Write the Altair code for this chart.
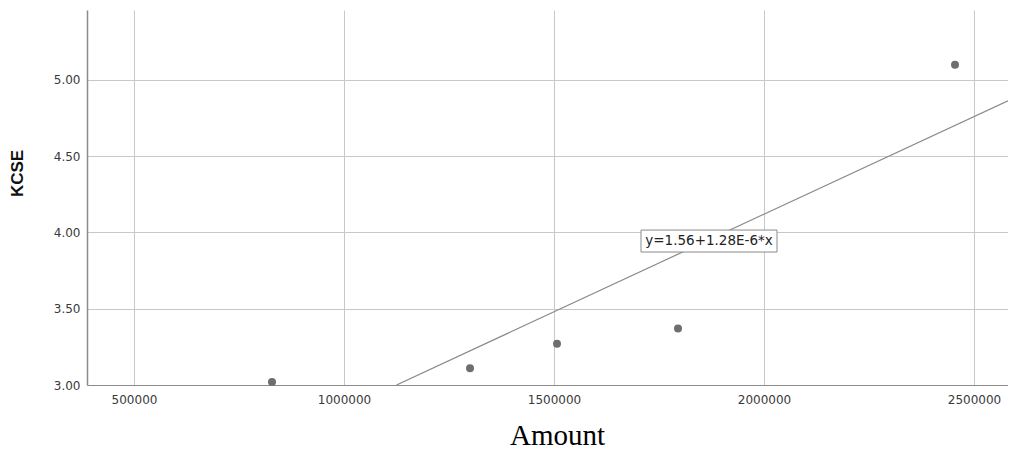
import altair as alt
import pandas as pd

# Data
amount = [828571, 1300000, 1507143, 1795238, 2454762]
kcse = [3.02, 3.11, 3.27, 3.37, 5.10]

# Fit line as printed on chart
intercept = 1.56
slope = 1.28e-6
fit_label = "y=1.56+1.28E-6*x"

x_ticks = [500000, 1000000, 1500000, 2000000, 2500000]
y_ticks = [3.0, 3.5, 4.0, 4.5, 5.0]
x_domain = [388095, 2580952]
y_domain = [3.0, 5.459]

# label box / text anchor (data coords)
label_x = 1869048
label_y = 3.944
box_x = [1707143, 2030952]
box_y = [3.872, 4.016]

pts = pd.DataFrame({"Amount": amount, "KCSE": kcse})
x_start = (y_domain[0] - intercept) / slope
line_df = pd.DataFrame({"Amount": [x_start, x_domain[1]],
                        "KCSE": [intercept + slope * x_start, intercept + slope * x_domain[1]]})
box_df = pd.DataFrame({"x": [box_x[0]], "x2": [box_x[1]], "y": [box_y[0]], "y2": [box_y[1]]})
lab_df = pd.DataFrame({"x": [label_x], "y": [label_y], "t": [fit_label]})

xscale = alt.Scale(domain=x_domain, nice=False, zero=False)
yscale = alt.Scale(domain=y_domain, nice=False, zero=False)

xaxis = alt.Axis(values=x_ticks, format="d", title="Amount", ticks=False,
                 grid=True, gridColor="#c8c8c8", gridWidth=1,
                 domainColor="#8c8c8c", domainWidth=1,
                 labelFont="DejaVu Sans", labelFontSize=12, labelColor="#3a3a3a",
                 labelPadding=9, labelBaseline="top",
                 titleFont="Liberation Serif", titleFontSize=29, titleFontWeight="normal",
                 titleColor="#000000", titleX=470, titleY=59, titleAnchor="start",
                 titleAlign="center", titleBaseline="alphabetic")
yaxis = alt.Axis(values=y_ticks, format=".2f", title="KCSE", ticks=False,
                 grid=True, gridColor="#c8c8c8", gridWidth=1,
                 domainColor="#8c8c8c", domainWidth=1.5,
                 labelFont="DejaVu Sans", labelFontSize=12, labelColor="#3a3a3a",
                 labelPadding=7,
                 titleFont="Liberation Sans", titleFontSize=17, titleFontWeight="bold",
                 titleColor="#111111", titleX=-70, titleY=163, titleAngle=-90,
                 titleAlign="center", titleBaseline="middle")

points = alt.Chart(pts).mark_circle(size=64, color="#6e6e6e", opacity=1).encode(
    x=alt.X("Amount:Q", scale=xscale, axis=xaxis),
    y=alt.Y("KCSE:Q", scale=yscale, axis=yaxis),
)
fit = alt.Chart(line_df).mark_line(color="#8a8a8a", strokeWidth=1.2, clip=True).encode(
    x=alt.X("Amount:Q", scale=xscale),
    y=alt.Y("KCSE:Q", scale=yscale),
)
box = alt.Chart(box_df).mark_rect(fill="white", stroke="#8a8a8a", strokeWidth=1).encode(
    x=alt.X("x:Q", scale=xscale), x2="x2:Q",
    y=alt.Y("y:Q", scale=yscale), y2="y2:Q",
)
text = alt.Chart(lab_df).mark_text(font="DejaVu Sans", fontSize=13.5, color="#222222",
                                   align="center", baseline="middle").encode(
    x=alt.X("x:Q", scale=xscale),
    y=alt.Y("y:Q", scale=yscale),
    text="t:N",
)

chart = alt.layer(fit, points, box, text).properties(
    width=921, height=375,
    autosize=alt.AutoSizeParams(type="none"),
    padding={"left": 79, "top": 2, "right": 0, "bottom": 66},
).configure_view(stroke=None)

chart.save("out.html", embed_options={"renderer": "svg", "actions": False})
